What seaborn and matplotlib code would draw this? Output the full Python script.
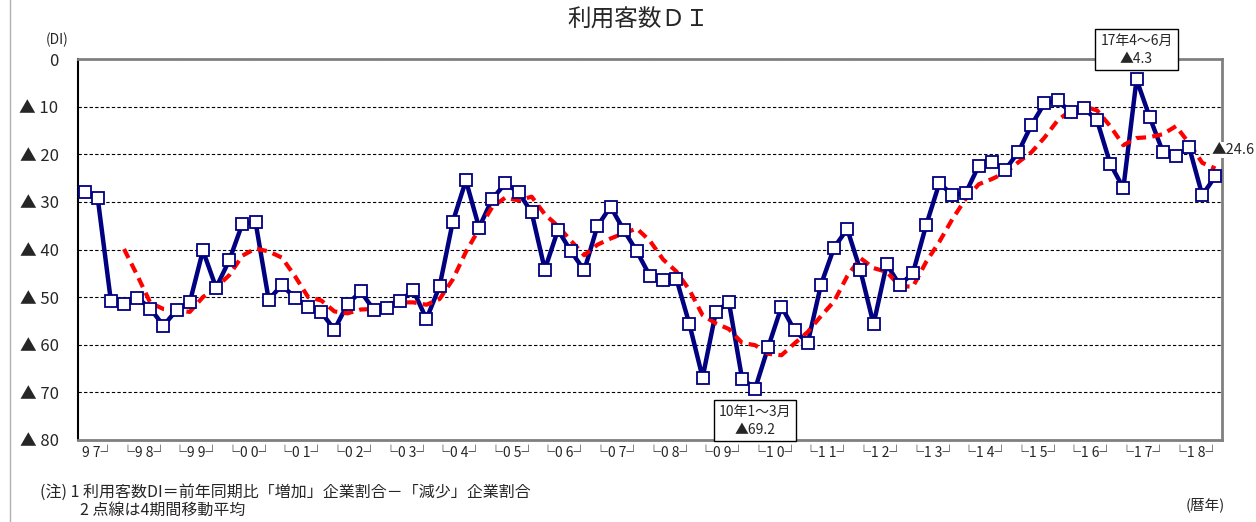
import pandas as pd
import matplotlib
matplotlib.use('Agg')
import matplotlib.pyplot as plt
from matplotlib.lines import Line2D
import seaborn as sns

# --- Data: quarterly DI, 1997 Apr-Jun ... 2018 Oct-Dec (values are negative, plotted as ▲) ---
di_values = [27.9, 29.2, 50.8,
             51.5, 50.1, 52.4, 56.0,
             52.7, 51.1, 40.2, 48.0,
             42.3, 34.6, 34.2, 50.5,
             47.5, 50.1, 52.0, 53.2,
             56.8, 51.5, 48.8, 52.7,
             52.2, 50.8, 48.6, 54.6,
             47.7, 34.2, 25.5, 35.4,
             29.4, 26.1, 28.0, 32.2,
             44.2, 35.9, 40.4, 44.4,
             35.1, 31.0, 35.9, 40.4,
             45.6, 46.4, 46.1, 55.7,
             66.9, 53.2, 51.0, 67.1,
             69.2, 60.4, 52.0, 57.0,
             59.6, 47.4, 39.6, 35.7,
             44.4, 55.7, 43.1, 47.5,
             44.9, 34.9, 26.1, 28.5,
             28.2, 22.4, 21.6, 23.3,
             19.6, 13.9, 9.3, 8.7,
             11.2, 10.3, 12.9, 22.0,
             27.1, 4.3, 12.2, 19.5,
             20.4, 18.5, 28.6, 24.6]

# 4-period moving average (dashed line)
ma_values = [None, None, None,
             39.9, 45.4, 51.2, 52.5,
             52.8, 53.1, 50.0, 48.0,
             45.4, 41.3, 39.8, 40.4,
             41.7, 45.6, 50.0, 50.7,
             53.0, 53.4, 52.6, 52.5,
             51.3, 51.1, 51.1, 51.6,
             50.4, 46.3, 40.5, 35.7,
             31.1, 29.1, 29.7, 28.9,
             32.6, 35.1, 38.2, 41.2,
             39.0, 37.7, 36.6, 35.6,
             38.2, 42.1, 44.6, 48.5,
             53.8, 55.5, 56.7, 59.6,
             60.1, 61.9, 62.2, 59.7,
             57.3, 54.0, 50.9, 45.6,
             41.8, 43.9, 44.7, 47.7,
             47.8, 42.6, 38.4, 33.6,
             29.4, 26.3, 25.2, 23.9,
             21.7, 19.6, 16.5, 12.9,
             10.8, 9.9, 10.8, 14.1,
             18.1, 16.6, 16.4, 15.8,
             14.1, 17.7, 21.8, 23.0]

xtick_labels = ['9 7┘', '└9 8┘', '└9 9┘', '└0 0┘', '└0 1┘', '└0 2┘', '└0 3┘', '└0 4┘',
                '└0 5┘', '└0 6┘', '└0 7┘', '└0 8┘', '└0 9┘', '└1 0┘', '└1 1┘', '└1 2┘',
                '└1 3┘', '└1 4┘', '└1 5┘', '└1 6┘', '└1 7┘', '└1 8┘']
ytick_values = [0, 10, 20, 30, 40, 50, 60, 70, 80]
ytick_labels = ['0', '▲ 10', '▲ 20', '▲ 30', '▲ 40', '▲ 50', '▲ 60', '▲ 70', '▲ 80']

sns.set_style('white')
plt.rcParams['font.family'] = ['Noto Sans CJK JP', 'DejaVu Sans']

df = pd.DataFrame({'q': range(len(di_values)), 'DI': di_values,
                   'MA': pd.to_numeric(pd.Series(ma_values), errors='coerce')})

W, H = 1256, 522
fig = plt.figure(figsize=(W / 100, H / 100), dpi=100)
ax = fig.add_axes([78 / W, 82 / H, 1144 / W, 381 / H])

# --- lines ---
sns.lineplot(data=df, x='q', y='DI', ax=ax, color='#000080', lw=3.2, zorder=3)
sns.lineplot(data=df.dropna(), x='q', y='MA', ax=ax, color='#ff0000', lw=3,
             linestyle=(0, (2.4, 1.5)), zorder=4)
sns.lineplot(data=df, x='q', y='DI', ax=ax, color='#000080', lw=0, marker='s',
             markersize=8, markerfacecolor='white', markeredgecolor='#000080',
             markeredgewidth=1.3, zorder=5)

# --- axes ---
ax.set_xlim(-0.5, len(di_values) - 0.5)
ax.set_ylim(80, 0)
ax.set_yticks(ytick_values)
ax.set_yticklabels(ytick_labels, fontsize=12)
xpos = [1] + [3 + 4 * k + 1.5 for k in range(len(xtick_labels) - 1)]
ax.set_xticks(xpos)
ax.set_xticklabels(xtick_labels, fontsize=10)
ax.tick_params(axis='both', length=0)
ax.tick_params(axis='y', pad=14)
ax.tick_params(axis='x', pad=4)
ax.set_xlabel('')
ax.set_ylabel('')
ax.yaxis.grid(True, linestyle=(0, (3, 2)), color='black', lw=0.8)
ax.xaxis.grid(False)
ax.spines['left'].set_color('black')
ax.spines['left'].set_linewidth(1.5)
for s in ['top', 'right', 'bottom']:
    ax.spines[s].set_color('#808080')
    ax.spines[s].set_linewidth(2)

# --- annotations ---
box = dict(boxstyle='square,pad=0.35', fc='white', ec='black', lw=1)
ax.text(80, -1.9, '17年4〜6月\n▲4.3', ha='center', va='center', fontsize=10,
        bbox=box, clip_on=False, zorder=6, linespacing=1.3)
ax.text(51, 76.0, '10年1〜3月\n▲69.2', ha='center', va='center', fontsize=10,
        bbox=box, clip_on=False, zorder=6, linespacing=1.3)
ax.text(85.7, 19.1, '▲24.6', ha='left', va='center', fontsize=10.5,
        bbox=dict(boxstyle='square,pad=0.1', fc='white', ec='none'),
        clip_on=False, zorder=6)

fig.text(638 / W, 1 - 20 / H, '利用客数ＤＩ', ha='center', va='center', fontsize=17)
fig.text(57 / W, 1 - 40 / H, '(DI)', ha='center', va='center', fontsize=10)
fig.text(40 / W, 1 - 492 / H, '(注) 1 利用客数DI＝前年同期比「増加」企業割合－「減少」企業割合',
         ha='left', va='center', fontsize=11.5)
fig.text(80 / W, 1 - 510 / H, '2 点線は4期間移動平均', ha='left', va='center', fontsize=11.5)
fig.text(1225 / W, 1 - 505 / H, '(暦年)', ha='right', va='center', fontsize=10.5)
fig.add_artist(Line2D([10 / W, 10 / W], [0, 1], color='#b0b0b0', lw=1))

fig.savefig('out.png', dpi=100)
